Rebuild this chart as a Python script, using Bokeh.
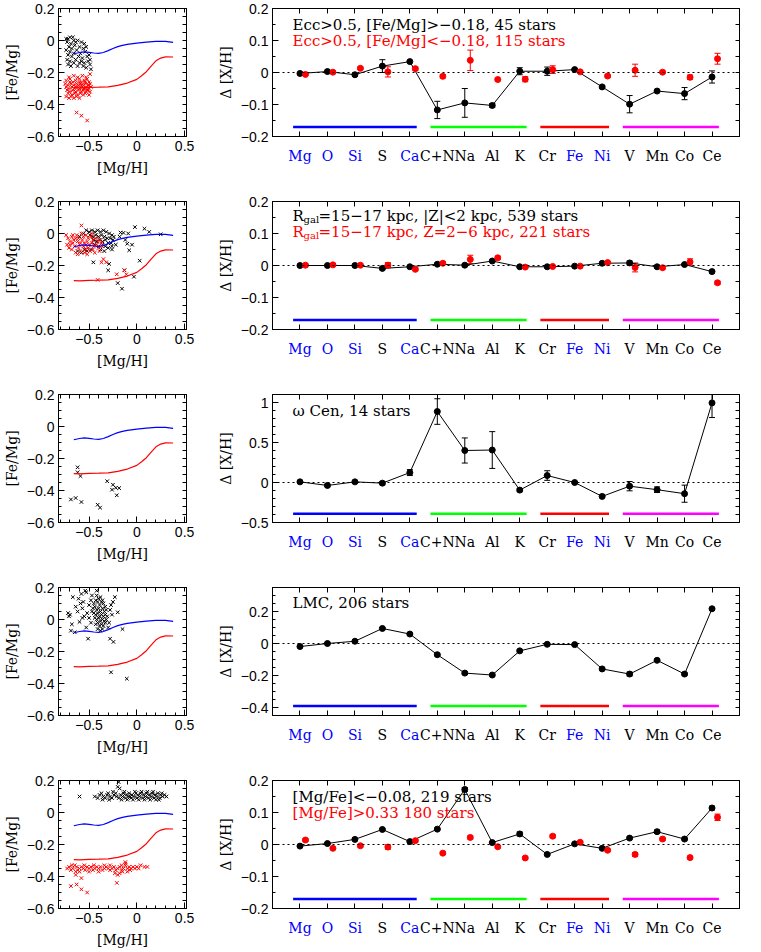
import numpy as np
from bokeh.plotting import figure
from bokeh.layouts import column, row
from bokeh.models import (FixedTicker, LinearAxis, Range1d, ColumnDataSource,
                          Whisker, TeeHead, Label, Span)
from bokeh.core.properties import value
from bokeh.embed import file_html
from bokeh.resources import INLINE

# ---------------- data ----------------
elements = ["Mg", "O", "Si", "S", "Ca", "C+N", "Na", "Al", "K", "Cr", "Fe", "Ni",
            "V", "Mn", "Co", "Ce"]
element_colors = ["blue", "blue", "blue", "black", "blue", "black", "black", "black",
                  "black", "black", "blue", "blue", "black", "black", "black", "black"]
element_pos = list(range(1, 17))

group_start = [0.75, 5.75, 9.75, 12.75]
group_end = [5.25, 9.25, 12.25, 16.25]
group_colors = ["#0000ff", "#00ff00", "#ff0000", "#ff00ff"]

model_blue_mgh = [-0.66, -0.6, -0.55, -0.5, -0.45, -0.4, -0.35, -0.3, -0.25, -0.2,
                  -0.15, -0.1, 0.0, 0.1, 0.2, 0.3, 0.38]
model_blue_femg = [-0.083, -0.075, -0.071, -0.074, -0.078, -0.080, -0.075, -0.063,
                   -0.050, -0.038, -0.030, -0.024, -0.016, -0.010, -0.005, -0.005, -0.012]
model_red_mgh = [-0.66, -0.6, -0.5, -0.4, -0.3, -0.2, -0.1, 0.0, 0.05, 0.1, 0.15,
                 0.2, 0.25, 0.3, 0.38]
model_red_femg = [-0.295, -0.296, -0.293, -0.292, -0.290, -0.280, -0.266, -0.243,
                  -0.220, -0.195, -0.160, -0.127, -0.110, -0.102, -0.103]

# row 1
r1_black = [-0.003, 0.003, -0.007, 0.020, 0.034, -0.117, -0.095, -0.103, 0.004, 0.004,
            0.009, -0.045, -0.099, -0.058, -0.066, -0.014]
r1_black_err = [0.003, 0.004, 0.004, 0.020, 0.003, 0.027, 0.045, 0.006, 0.011, 0.013,
                0.003, 0.004, 0.027, 0.003, 0.019, 0.019]
r1_red = [-0.006, 0.001, 0.013, 0.002, 0.012, -0.012, 0.038, -0.022, -0.021, 0.009,
          0.002, -0.011, 0.007, 0.001, -0.015, 0.043]
r1_red_err = [0.003, 0.003, 0.004, 0.016, 0.005, 0.005, 0.032, 0.004, 0.008, 0.012,
              0.003, 0.004, 0.019, 0.004, 0.007, 0.017]
# row 2
r2_black = [0.000, 0.000, 0.000, -0.009, -0.004, 0.004, 0.001, 0.014, -0.004, -0.004,
            -0.002, 0.007, 0.008, -0.004, 0.003, -0.019]
r2_black_err = [0.002, 0.002, 0.002, 0.004, 0.002, 0.003, 0.003, 0.003, 0.002, 0.002,
                0.002, 0.002, 0.006, 0.002, 0.003, 0.004]
r2_red = [0.001, 0.002, 0.001, 0.001, -0.012, 0.007, 0.019, 0.024, -0.005, -0.003,
          -0.002, 0.009, -0.006, -0.007, 0.011, -0.054]
r2_red_err = [0.003, 0.003, 0.003, 0.008, 0.004, 0.004, 0.013, 0.005, 0.004, 0.003,
              0.003, 0.003, 0.014, 0.004, 0.010, 0.005]
# row 3
r3_black = [0.008, -0.037, 0.008, -0.008, 0.124, 0.887, 0.400, 0.406, -0.095, 0.087,
            0.000, -0.174, -0.046, -0.090, -0.140, 0.995]
r3_black_err = [0.015, 0.015, 0.015, 0.020, 0.037, 0.160, 0.157, 0.230, 0.020, 0.060,
                0.010, 0.016, 0.058, 0.035, 0.107, 0.183]
# row 4
r4_black = [-0.019, 0.000, 0.014, 0.094, 0.059, -0.070, -0.185, -0.197, -0.046, -0.005,
            -0.007, -0.159, -0.191, -0.105, -0.191, 0.217]
r4_black_err = [0.005, 0.004, 0.005, 0.006, 0.006, 0.006, 0.009, 0.007, 0.006, 0.005,
                0.004, 0.006, 0.012, 0.007, 0.007, 0.006]
# row 5
r5_black = [-0.005, 0.003, 0.016, 0.047, 0.009, 0.048, 0.172, 0.006, 0.033, -0.031,
            0.002, -0.012, 0.020, 0.040, 0.017, 0.114]
r5_black_err = [0.002, 0.002, 0.003, 0.003, 0.003, 0.003, 0.006, 0.003, 0.006, 0.003,
                0.002, 0.003, 0.003, 0.005, 0.003, 0.006]
r5_red = [0.014, -0.012, -0.004, -0.008, 0.012, -0.027, 0.022, -0.007, -0.042, 0.026,
          0.007, -0.018, -0.031, 0.017, -0.041, 0.085]
r5_red_err = [0.004, 0.003, 0.004, 0.007, 0.004, 0.004, 0.005, 0.004, 0.004, 0.005,
              0.003, 0.004, 0.006, 0.004, 0.004, 0.010]

# scatter samples ([Mg/H], [Fe/Mg])
r1_black_pts = [(-0.74, 0.01), (-0.72, 0.01), (-0.70, 0.02), (-0.67, 0.02), (-0.66, 0.00),
                (-0.73, -0.01), (-0.69, -0.02), (-0.64, -0.01), (-0.62, 0.00), (-0.58, -0.01),
                (-0.55, -0.02), (-0.71, -0.04), (-0.68, -0.05), (-0.65, -0.03), (-0.60, -0.04),
                (-0.56, -0.05), (-0.53, -0.04), (-0.74, -0.06), (-0.70, -0.07), (-0.66, -0.08),
                (-0.63, -0.06), (-0.59, -0.08), (-0.54, -0.07), (-0.50, -0.09), (-0.72, -0.09),
                (-0.68, -0.10), (-0.61, -0.10), (-0.57, -0.11), (-0.52, -0.10), (-0.49, -0.12),
                (-0.73, -0.12), (-0.70, -0.13), (-0.66, -0.14), (-0.64, -0.12), (-0.58, -0.13),
                (-0.55, -0.14), (-0.51, -0.13), (-0.72, -0.15), (-0.69, -0.16), (-0.62, -0.16),
                (-0.56, -0.16), (-0.53, -0.17), (-0.49, -0.15), (-0.60, -0.14), (-0.48, -0.18)]
r1_red_pts = [(-0.71, -0.23), (-0.66, -0.22), (-0.62, -0.23), (-0.57, -0.22), (-0.53, -0.23),
              (-0.49, -0.21), (-0.74, -0.25), (-0.70, -0.24), (-0.67, -0.26), (-0.64, -0.25),
              (-0.60, -0.24), (-0.58, -0.26), (-0.55, -0.25), (-0.52, -0.24), (-0.50, -0.26),
              (-0.75, -0.27), (-0.72, -0.28), (-0.69, -0.27), (-0.66, -0.28), (-0.63, -0.27),
              (-0.61, -0.28), (-0.59, -0.27), (-0.56, -0.28), (-0.54, -0.27), (-0.51, -0.28),
              (-0.49, -0.27), (-0.74, -0.29), (-0.71, -0.30), (-0.68, -0.29), (-0.65, -0.30),
              (-0.62, -0.29), (-0.60, -0.30), (-0.57, -0.29), (-0.55, -0.30), (-0.53, -0.29),
              (-0.50, -0.30), (-0.48, -0.29), (-0.73, -0.31), (-0.70, -0.32), (-0.67, -0.31),
              (-0.64, -0.32), (-0.61, -0.31), (-0.58, -0.32), (-0.56, -0.31), (-0.53, -0.32),
              (-0.51, -0.31), (-0.49, -0.32), (-0.72, -0.33), (-0.68, -0.34), (-0.65, -0.33),
              (-0.62, -0.34), (-0.59, -0.33), (-0.56, -0.34), (-0.54, -0.33), (-0.50, -0.34),
              (-0.74, -0.35), (-0.71, -0.36), (-0.69, -0.35), (-0.66, -0.36), (-0.63, -0.35),
              (-0.60, -0.36), (-0.58, -0.28), (-0.54, -0.26), (-0.52, -0.31), (-0.56, -0.30),
              (-0.50, -0.28), (-0.60, -0.26), (-0.64, -0.29), (-0.70, -0.26), (-0.63, -0.45),
              (-0.58, -0.47), (-0.52, -0.50)]
r2_black_pts = [(-0.50, 0.01), (-0.47, 0.02), (-0.44, 0.01), (-0.41, 0.02), (-0.38, 0.01),
                (-0.35, 0.02), (-0.32, 0.01), (-0.29, 0.00), (-0.26, -0.01), (-0.24, -0.02),
                (-0.49, -0.01), (-0.46, -0.02), (-0.43, -0.01), (-0.40, -0.02), (-0.37, -0.01),
                (-0.34, -0.02), (-0.31, -0.03), (-0.28, -0.03), (-0.25, -0.04), (-0.45, -0.04),
                (-0.42, -0.05), (-0.39, -0.04), (-0.36, -0.05), (-0.33, -0.04), (-0.30, -0.06),
                (-0.27, -0.06), (-0.44, -0.07), (-0.40, -0.08), (-0.36, -0.07), (-0.33, -0.08),
                (-0.30, -0.09), (-0.26, -0.08), (-0.62, -0.11), (-0.58, -0.12), (-0.55, -0.10),
                (-0.52, -0.11), (-0.48, -0.10), (-0.38, -0.10), (-0.34, -0.11), (-0.56, 0.00),
                (-0.53, 0.02), (-0.60, -0.02), (-0.02, 0.04), (0.08, 0.03), (0.13, 0.01),
                (0.25, -0.005), (-0.09, 0.00), (-0.05, -0.07), (-0.08, -0.105), (0.03, -0.17),
                (-0.03, -0.27), (-0.13, -0.23), (-0.20, -0.31), (-0.155, -0.345), (-0.30, -0.23),
                (-0.29, -0.19), (-0.455, -0.18), (-0.17, 0.006), (-0.14, 0.004), (-0.10, -0.064),
                (-0.26, -0.10), (-0.22, -0.07), (-0.18, -0.02), (-0.12, -0.04)]
r2_red_pts = [(-0.74, -0.01), (-0.72, -0.03), (-0.70, -0.05), (-0.73, -0.07), (-0.71, -0.09),
              (-0.68, -0.02), (-0.66, -0.04), (-0.67, -0.06), (-0.65, -0.08), (-0.68, -0.10),
              (-0.64, -0.12), (-0.63, -0.01), (-0.61, -0.03), (-0.62, -0.05), (-0.60, -0.07),
              (-0.61, -0.09), (-0.59, -0.11), (-0.58, 0.00), (-0.56, -0.02), (-0.57, -0.04),
              (-0.55, -0.06), (-0.56, -0.08), (-0.54, -0.10), (-0.55, -0.12), (-0.53, -0.01),
              (-0.51, -0.03), (-0.52, -0.05), (-0.50, -0.07), (-0.51, -0.09), (-0.49, -0.11),
              (-0.48, -0.02), (-0.46, -0.04), (-0.47, -0.06), (-0.45, -0.08), (-0.46, -0.10),
              (-0.44, -0.12), (-0.43, -0.03), (-0.41, -0.05), (-0.42, -0.07), (-0.40, -0.09),
              (-0.38, -0.04), (-0.37, -0.06), (-0.36, -0.08), (-0.39, -0.11), (-0.35, -0.16),
              (-0.37, -0.18), (-0.58, 0.05), (-0.67, -0.01), (-0.41, -0.29), (-0.21, -0.255),
              (-0.11, -0.255), (-0.13, -0.23), (-0.32, -0.18), (-0.70, -0.07), (-0.62, -0.13),
              (-0.52, -0.13), (-0.47, 0.00), (-0.53, -0.07), (-0.59, -0.06), (-0.64, -0.03)]
r3_black_pts = [(-0.62, -0.255), (-0.62, -0.286), (-0.59, -0.31), (-0.69, -0.456),
                (-0.64, -0.447), (-0.58, -0.472), (-0.41, -0.489), (-0.385, -0.507),
                (-0.31, -0.342), (-0.25, -0.364), (-0.26, -0.395), (-0.22, -0.383),
                (-0.185, -0.385), (-0.21, -0.43)]
r4_black_pts = [(-0.45, 0.10), (-0.43, 0.12), (-0.41, 0.11), (-0.39, 0.09), (-0.37, 0.11),
                (-0.35, 0.10), (-0.33, 0.08), (-0.46, 0.07), (-0.44, 0.08), (-0.42, 0.06),
                (-0.40, 0.07), (-0.38, 0.05), (-0.36, 0.07), (-0.34, 0.05), (-0.32, 0.06),
                (-0.45, 0.04), (-0.43, 0.03), (-0.41, 0.04), (-0.39, 0.02), (-0.37, 0.03),
                (-0.35, 0.02), (-0.33, 0.03), (-0.31, 0.02), (-0.44, 0.01), (-0.42, 0.00),
                (-0.40, 0.01), (-0.38, -0.01), (-0.36, 0.00), (-0.34, -0.01), (-0.32, 0.00),
                (-0.43, -0.03), (-0.41, -0.02), (-0.39, -0.04), (-0.37, -0.03), (-0.35, -0.04),
                (-0.33, -0.02), (-0.41, -0.06), (-0.38, -0.07), (-0.36, -0.06), (-0.40, 0.13),
                (-0.38, 0.14), (-0.42, 0.15), (-0.36, 0.12), (-0.67, 0.14), (-0.61, 0.13),
                (-0.56, 0.11), (-0.54, 0.18), (-0.53, 0.17), (-0.42, 0.18), (-0.70, 0.03),
                (-0.71, 0.02), (-0.68, -0.03), (-0.65, -0.08), (-0.60, -0.015), (-0.51, -0.12),
                (-0.28, -0.12), (-0.245, -0.14), (-0.15, -0.06), (-0.23, 0.14), (-0.20, 0.045),
                (-0.27, -0.33), (-0.105, -0.37), (-0.50, 0.01), (-0.52, 0.04), (-0.57, 0.07),
                (-0.59, 0.10), (-0.48, 0.12), (-0.50, 0.09), (-0.55, 0.02), (-0.47, 0.15),
                (-0.62, 0.05), (-0.64, 0.08), (-0.58, 0.16), (-0.27, 0.09), (-0.28, 0.06),
                (-0.26, 0.03), (-0.29, -0.02), (-0.30, -0.05), (-0.25, 0.11), (-0.48, -0.02),
                (-0.53, -0.05), (-0.69, -0.07), (-0.72, 0.04), (-0.57, 0.01), (-0.47, 0.05)]
r5_black_pts = [(-0.60, 0.10), (-0.44, 0.10), (-0.41, 0.09), (-0.39, 0.11), (-0.37, 0.12),
                (-0.35, 0.10), (-0.33, 0.09), (-0.31, 0.11), (-0.30, 0.12), (-0.28, 0.10),
                (-0.26, 0.09), (-0.24, 0.11), (-0.22, 0.12), (-0.21, 0.10), (-0.19, 0.19),
                (-0.20, 0.16), (-0.18, 0.15), (-0.19, 0.09), (-0.17, 0.11), (-0.15, 0.10),
                (-0.14, 0.12), (-0.12, 0.09), (-0.11, 0.11), (-0.09, 0.10), (-0.08, 0.12),
                (-0.06, 0.09), (-0.05, 0.11), (-0.03, 0.10), (-0.02, 0.13), (0.00, 0.09),
                (0.01, 0.11), (0.03, 0.10), (0.04, 0.12), (0.06, 0.09), (0.07, 0.11),
                (0.09, 0.10), (0.10, 0.12), (0.12, 0.09), (0.13, 0.11), (0.15, 0.10),
                (0.16, 0.12), (0.18, 0.09), (0.19, 0.11), (0.21, 0.10), (0.22, 0.12),
                (0.24, 0.09), (0.25, 0.11), (0.27, 0.10), (0.29, 0.11), (0.31, 0.10),
                (-0.16, 0.08), (-0.10, 0.08), (-0.04, 0.08), (0.02, 0.08), (0.08, 0.08),
                (0.14, 0.08), (0.20, 0.08), (-0.25, 0.13), (-0.13, 0.13), (-0.01, 0.12),
                (0.05, 0.13), (0.11, 0.13), (0.17, 0.13), (-0.36, 0.08), (-0.29, 0.08),
                (-0.07, 0.10), (0.26, 0.12), (0.23, 0.08)]
r5_red_pts = [(-0.73, -0.35), (-0.71, -0.34), (-0.69, -0.36), (-0.67, -0.35), (-0.65, -0.33),
              (-0.63, -0.34), (-0.62, -0.36), (-0.60, -0.35), (-0.58, -0.34), (-0.56, -0.35),
              (-0.54, -0.36), (-0.52, -0.34), (-0.50, -0.35), (-0.48, -0.34), (-0.46, -0.36),
              (-0.44, -0.35), (-0.42, -0.34), (-0.40, -0.35), (-0.38, -0.34), (-0.36, -0.36),
              (-0.34, -0.35), (-0.32, -0.34), (-0.30, -0.35), (-0.28, -0.33), (-0.26, -0.35),
              (-0.24, -0.34), (-0.22, -0.36), (-0.20, -0.35), (-0.18, -0.34), (-0.16, -0.36),
              (-0.14, -0.35), (-0.12, -0.33), (-0.10, -0.35), (-0.08, -0.34), (-0.06, -0.35),
              (-0.04, -0.34), (-0.02, -0.35), (0.00, -0.34), (0.02, -0.35), (0.04, -0.33),
              (0.08, -0.34), (0.11, -0.34), (-0.69, -0.46), (-0.63, -0.45), (-0.58, -0.48),
              (-0.52, -0.50), (-0.58, -0.41), (-0.64, -0.37), (-0.64, -0.39), (-0.21, -0.44),
              (-0.20, -0.39), (-0.12, -0.32), (-0.12, -0.31), (-0.18, -0.38), (-0.15, -0.37),
              (-0.23, -0.38), (-0.10, -0.37), (-0.16, -0.33), (-0.34, -0.33), (-0.45, -0.33),
              (-0.55, -0.33), (-0.68, -0.33), (-0.07, -0.36), (-0.28, -0.36), (-0.40, -0.37),
              (-0.50, -0.37), (-0.60, -0.37)]

left_y_ticks = [-0.6, -0.4, -0.2, 0, 0.2]
left_y_labels = ["\u22120.6", "\u22120.4", "\u22120.2", "0", "0.2"]
left_x_ticks = [-0.5, 0, 0.5]
left_x_labels = ["\u22120.5", "0", "0.5"]

MINUS = "\u2212"
SERIF = "DejaVu Serif"
SANS = "Liberation Sans"
RED_OFFSET = 0.2
ROW_BOTTOM = 57
LAST_BOTTOM = 40
STRIP_GAP = 9
STRIP_H = 20


def style_axis(ax, ticks, minor, labels):
    ax.ticker = FixedTicker(ticks=ticks, minor_ticks=minor)
    ax.major_tick_in = 6
    ax.major_tick_out = 0
    ax.minor_tick_in = 3
    ax.minor_tick_out = 0
    ax.axis_line_color = "black"
    ax.major_tick_line_color = "black"
    ax.minor_tick_line_color = "black"
    ax.major_label_overrides = {t: l for t, l in zip(ticks, labels)}
    ax.major_label_text_font = SANS
    ax.major_label_text_font_size = "14px"
    ax.major_label_text_color = "black"
    ax.major_label_standoff = 4


def tick_only_axis(positions, length):
    # an axis that carries only (minor) tick marks, so it draws no labels
    ax = LinearAxis(ticker=FixedTicker(ticks=[], minor_ticks=positions))
    ax.minor_tick_in = length
    ax.minor_tick_out = 0
    ax.minor_tick_line_color = "black"
    ax.axis_line_color = "black"
    ax.major_tick_line_color = None
    return ax


def set_label(ax, text, standoff):
    ax.axis_label = text
    ax.axis_label_text_font = SERIF
    ax.axis_label_text_font_size = "14px"
    ax.axis_label_text_font_style = "normal"
    ax.axis_label_text_color = "black"
    ax.axis_label_standoff = standoff


def frame_common(p):
    p.grid.visible = False
    p.outline_line_color = "black"
    p.background_fill_color = "white"
    p.border_fill_color = "white"


def make_left(black_pts, red_pts, last):
    p = figure(frame_width=128, frame_height=128, x_range=Range1d(-0.82, 0.52),
               y_range=Range1d(-0.6, 0.2), output_backend="svg", toolbar_location=None,
               min_border_left=50, min_border_right=16, min_border_top=8,
               min_border_bottom=LAST_BOTTOM if last else ROW_BOTTOM)
    frame_common(p)
    xminor = [float(v) for v in np.round(np.arange(-0.8, 0.51, 0.1), 2)]
    yminor = [float(v) for v in np.round(np.arange(-0.6, 0.21, 0.05), 2)]
    style_axis(p.xaxis[0], left_x_ticks, xminor, left_x_labels)
    style_axis(p.yaxis[0], left_y_ticks, yminor, left_y_labels)
    set_label(p.xaxis[0], "[Mg/H]", 6)
    set_label(p.yaxis[0], "[Fe/Mg]", 4)
    p.add_layout(tick_only_axis(xminor, 4), "above")
    p.add_layout(tick_only_axis(yminor, 4), "right")
    if black_pts:
        p.scatter([a for a, b in black_pts], [b for a, b in black_pts], marker="x",
                  size=5, line_color="black", line_width=1)
    if red_pts:
        p.scatter([a for a, b in red_pts], [b for a, b in red_pts], marker="x",
                  size=5, line_color="red", line_width=1)
    p.line(model_blue_mgh, model_blue_femg, line_color="#0000ff", line_width=1.2)
    p.line(model_red_mgh, model_red_femg, line_color="#ff0000", line_width=1.2)
    return p


def add_series(p, xs, vals, errs, color, connect):
    src = ColumnDataSource(dict(x=xs, y=vals,
                                lo=[v - e for v, e in zip(vals, errs)],
                                hi=[v + e for v, e in zip(vals, errs)]))
    if connect:
        p.line("x", "y", source=src, line_color=color, line_width=1)
    p.add_layout(Whisker(source=src, base="x", lower="lo", upper="hi",
                         line_color=color, line_width=1,
                         upper_head=TeeHead(size=6, line_color=color, line_width=1),
                         lower_head=TeeHead(size=6, line_color=color, line_width=1)))
    p.scatter("x", "y", source=src, size=6, fill_color=color, line_color=color)


def make_right(yr, yticks, ylabels, yminor, black, black_err, red, red_err, group_y,
               texts, last):
    p = figure(frame_width=467, frame_height=128, x_range=Range1d(0, 17),
               y_range=Range1d(*yr), output_backend="svg", toolbar_location=None,
               min_border_left=70, min_border_right=8, min_border_top=8,
               min_border_bottom=STRIP_GAP)
    frame_common(p)
    p.xaxis.visible = False
    style_axis(p.yaxis[0], yticks, yminor, ylabels)
    set_label(p.yaxis[0], "\u0394 [X/H]", 4)
    p.add_layout(tick_only_axis(element_pos, 5), "below")
    p.add_layout(tick_only_axis(element_pos, 5), "above")
    p.add_layout(tick_only_axis(sorted(set(yticks) | set(yminor)), 4), "right")

    p.add_layout(Span(location=0, dimension="width", line_color="black",
                      line_dash="2 3", line_width=1))
    p.segment(x0=group_start, x1=group_end, y0=[group_y] * 4, y1=[group_y] * 4,
              line_color=group_colors, line_width=2.5)
    add_series(p, element_pos, black, black_err, "black", True)
    if red is not None:
        add_series(p, [x + RED_OFFSET for x in element_pos], red, red_err, "red", False)

    span = yr[1] - yr[0]
    for frac, color, segments in texts:
        y = yr[1] - frac * span
        for txt, dx, dy, size in segments:
            p.add_layout(Label(x=0.73, y=y, x_offset=dx, y_offset=dy, text=txt,
                               text_color=color, text_font=SERIF, text_font_size=size,
                               text_align="left", text_baseline="middle"))

    # strip below the panel carrying the coloured element names
    strip_bottom = 8 if last else ROW_BOTTOM - STRIP_GAP - STRIP_H
    q = figure(frame_width=467, frame_height=STRIP_H, x_range=p.x_range,
               y_range=Range1d(-1, 1), output_backend="svg", toolbar_location=None,
               x_axis_type=None, y_axis_type=None,
               min_border_left=70, min_border_right=8, min_border_top=0,
               min_border_bottom=strip_bottom)
    q.grid.visible = False
    q.outline_line_color = None
    q.text(x=element_pos, y=[0] * len(element_pos), text=elements,
           text_color=element_colors, text_font=value(SERIF), text_font_size="14px",
           text_align="center", text_baseline="middle")
    return column(p, q)


ticks_02 = [-0.2, -0.1, 0, 0.1, 0.2]
labels_02 = [MINUS + "0.2", MINUS + "0.1", "0", "0.1", "0.2"]
minor_02 = [float(v) for v in np.round(np.arange(-0.2, 0.201, 0.05), 2)]

TXT = "15px"
texts1 = [(0.125, "black", [("Ecc>0.5, [Fe/Mg]>" + MINUS + "0.18, 45 stars", 0, 0, TXT)]),
          (0.25, "red", [("Ecc>0.5, [Fe/Mg]<" + MINUS + "0.18, 115 stars", 0, 0, TXT)])]
texts2 = [(0.11, "black", [("R", 0, 0, TXT), ("gal", 11, -4, "10px"),
                           ("=15" + MINUS + "17 kpc, |Z|<2 kpc, 539 stars", 26, 0, TXT)]),
          (0.235, "red", [("R", 0, 0, TXT), ("gal", 11, -4, "10px"),
                          ("=15" + MINUS + "17 kpc, Z=2" + MINUS + "6 kpc, 221 stars", 26, 0, TXT)])]
texts3 = [(0.13, "black", [("\u03c9 Cen, 14 stars", 0, 0, TXT)])]
texts4 = [(0.12, "black", [("LMC, 206 stars", 0, 0, TXT)])]
texts5 = [(0.125, "black", [("[Mg/Fe]<" + MINUS + "0.08, 219 stars", 0, 0, TXT)]),
          (0.25, "red", [("[Mg/Fe]>0.33 180 stars", 0, 0, TXT)])]

rows = []
rows.append(row(make_left(r1_black_pts, r1_red_pts, False),
                make_right((-0.2, 0.2), ticks_02, labels_02, minor_02, r1_black, r1_black_err,
                           r1_red, r1_red_err, -0.17, texts1, False)))
rows.append(row(make_left(r2_black_pts, r2_red_pts, False),
                make_right((-0.2, 0.2), ticks_02, labels_02, minor_02, r2_black, r2_black_err,
                           r2_red, r2_red_err, -0.17, texts2, False)))
rows.append(row(make_left(r3_black_pts, [], False),
                make_right((-0.5, 1.1), [-0.5, 0, 0.5, 1], [MINUS + "0.5", "0", "0.5", "1"],
                           [float(v) for v in np.round(np.arange(-0.5, 1.11, 0.1), 2)],
                           r3_black, r3_black_err, None, None, -0.39, texts3, False)))
rows.append(row(make_left(r4_black_pts, [], False),
                make_right((-0.45, 0.35), [-0.4, -0.2, 0, 0.2],
                           [MINUS + "0.4", MINUS + "0.2", "0", "0.2"],
                           [float(v) for v in np.round(np.arange(-0.45, 0.351, 0.05), 2)],
                           r4_black, r4_black_err, None, None, -0.39, texts4, False)))
rows.append(row(make_left(r5_black_pts, r5_red_pts, True),
                make_right((-0.2, 0.2), ticks_02, labels_02, minor_02, r5_black, r5_black_err,
                           r5_red, r5_red_err, -0.17, texts5, True)))

layout = column(*rows)
open("out.html", "w").write(file_html(layout, INLINE))
